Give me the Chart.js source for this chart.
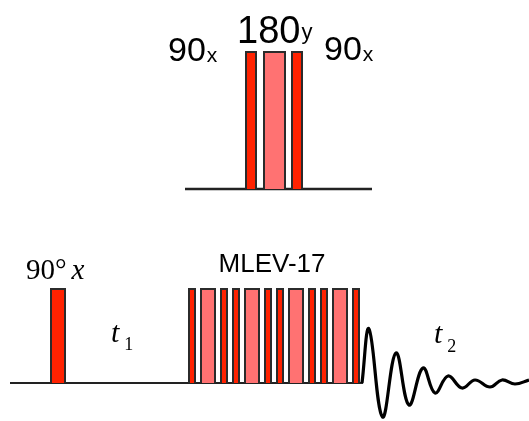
<!DOCTYPE html>
<html>
<head>
<meta charset="utf-8">
<script src="https://cdn.jsdelivr.net/npm/chart.js@4/dist/chart.umd.min.js"></script>
<style>
html,body{margin:0;padding:0;background:#fff;}
#wrap{width:529px;height:421px;}
</style>
</head>
<body>
<div id="wrap"><canvas id="c" width="529" height="421"></canvas></div>
<script>
// ---- data (time units along x, amplitude along y) ----
// Top block: 90x - 180y - 90x composite pulse
const topBaseline = 194;
const topLineSpan = [185, 372];
const topPulseStart = [246, 264, 292];
const topPulseEnd   = [256, 285, 302];
const topPulseKind  = ['90', '180', '90'];
const topPulseHeight = 137;

// Bottom block: 90°x, t1, MLEV-17, t2 (FID)
const botBaseline = 0;
const botLineSpan = [10, 363];
const exPulseStart = [51];
const exPulseEnd   = [65];
const mlevStart = [189, 201, 221, 233, 245, 265, 277, 289, 309, 321, 333, 353];
const mlevEnd   = [195, 215, 227, 239, 259, 271, 283, 303, 315, 327, 347, 359];
const mlevKind  = ['90','180','90','90','180','90','90','180','90','90','180','90'];
const botPulseHeight = 94;

// FID (peaks / troughs)
const fidT = [362, 369, 382.5, 396, 409, 423, 435, 448, 462, 475, 490, 502, 515, 529];
const fidA = [0, 54, -34, 30, -22, 15, -10, 7, -5, 3, -4, 3, -1, 3];

// ---- styling ----
const RED = '#ff2200', PINK = '#ff7272', EDGE = '#2b2b2b';

function rect(s, e, base, h, kind) {
  return {
    data: [{x:s,y:base},{x:s,y:base+h},{x:e,y:base+h},{x:e,y:base}],
    showLine: true, tension: 0, pointRadius: 0,
    borderColor: EDGE, borderWidth: 2,
    backgroundColor: kind === '180' ? PINK : RED,
    fill: {value: base}, order: 1
  };
}
const datasets = [];
datasets.push({data:[{x:topLineSpan[0],y:topBaseline},{x:topLineSpan[1],y:topBaseline}],
  showLine:true,pointRadius:0,borderColor:'#222',borderWidth:2.5,fill:false,order:3});
datasets.push({data:[{x:botLineSpan[0],y:botBaseline},{x:botLineSpan[1],y:botBaseline}],
  showLine:true,pointRadius:0,borderColor:'#222',borderWidth:2,fill:false,order:3});
topPulseStart.forEach((s,i)=>datasets.push(rect(s, topPulseEnd[i], topBaseline, topPulseHeight, topPulseKind[i])));
exPulseStart.forEach((s,i)=>datasets.push(rect(s, exPulseEnd[i], botBaseline, botPulseHeight, '90')));
mlevStart.forEach((s,i)=>datasets.push(rect(s, mlevEnd[i], botBaseline, botPulseHeight, mlevKind[i])));
datasets.push({data: fidT.map((t,i)=>({x:t,y:botBaseline+fidA[i]})),
  showLine:true,pointRadius:0,borderColor:'#000',borderWidth:3.2,tension:0.4,fill:false,order:0});

const labelPlugin = {
  id:'labels',
  afterDatasetsDraw(chart){
    const ctx = chart.ctx, xs = chart.scales.x, ys = chart.scales.y;
    const P = (x,y)=>[xs.getPixelForValue(x), ys.getPixelForValue(y)];
    function txt(s, x, y, font, align){
      const [px,py] = P(x,y);
      ctx.save(); ctx.font = font; ctx.fillStyle = '#000';
      ctx.textAlign = align || 'left'; ctx.textBaseline = 'alphabetic';
      ctx.fillText(s, px, py); const w = ctx.measureText(s).width; ctx.restore();
      return w;
    }
    const SANS = '"Liberation Sans", Arial, sans-serif';
    const SERIF = '"Liberation Serif", "Times New Roman", serif';
    let w;
    // top labels
    w = txt('90', 168, 322, '34px '+SANS);
    txt('x', 168+w+1, 321, '21px '+SANS);
    w = txt('180', 237, 340, '38px '+SANS);
    txt('y', 237+w+1, 344, '22px '+SANS);
    w = txt('90', 324, 323, '34px '+SANS);
    txt('x', 324+w+1, 322, '21px '+SANS);
    // bottom labels
    txt('MLEV-17', 272, 111, '26px '+SANS, 'center');
    w = txt('90°', 26, 104, '29px '+SERIF);
    txt('x', 26+w+5, 104, 'italic 29px '+SERIF);
    w = txt('t', 111, 41, 'italic 30px '+SERIF);
    txt('1', 111+w+5, 33, '18px '+SERIF);
    w = txt('t', 434, 40, 'italic 30px '+SERIF);
    txt('2', 434+w+5, 31, '18px '+SERIF);
  }
};

new Chart(document.getElementById('c'), {
  type: 'scatter',
  data: { datasets },
  options: {
    responsive: false, animation: false, devicePixelRatio: 1,
    layout: { padding: 0 },
    scales: {
      x: { type:'linear', min:0, max:529, display:false },
      y: { type:'linear', min:-38, max:383, display:false }
    },
    plugins: { legend:{display:false}, tooltip:{enabled:false} },
    clip: false
  },
  plugins: [labelPlugin]
});
</script>
</body>
</html>
